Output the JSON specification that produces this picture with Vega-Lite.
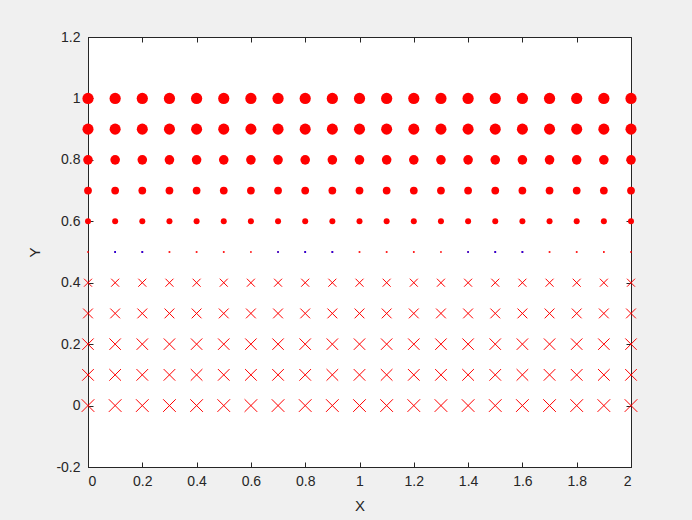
{
  "$schema": "https://vega.github.io/schema/vega-lite/v6.json",
  "width": 543,
  "height": 430,
  "autosize": "none",
  "padding": {"left": 88, "top": 37, "right": 61, "bottom": 53},
  "background": "#f0f0f0",
  "config": {
    "view": {"fill": "white", "stroke": "#262626", "strokeWidth": 1},
    "font": "Liberation Sans",
    "axis": {
      "grid": false,
      "domainColor": "#262626",
      "tickColor": "#262626",
      "labelColor": "#262626",
      "titleColor": "#262626",
      "labelFont": "Liberation Sans",
      "titleFont": "Liberation Sans",
      "labelFontSize": 14,
      "titleFontSize": 15,
      "titleFontWeight": "normal",
      "tickSize": -5,
      "labelPadding": 12
    }
  },
  "datasets": {
    "grid": [
      {"y": 0, "x": [0,0.1,0.2,0.3,0.4,0.5,0.6,0.7,0.8,0.9,1,1.1,1.2,1.3,1.4,1.5,1.6,1.7,1.8,1.9,2]},
      {"y": 0.1, "x": [0,0.1,0.2,0.3,0.4,0.5,0.6,0.7,0.8,0.9,1,1.1,1.2,1.3,1.4,1.5,1.6,1.7,1.8,1.9,2]},
      {"y": 0.2, "x": [0,0.1,0.2,0.3,0.4,0.5,0.6,0.7,0.8,0.9,1,1.1,1.2,1.3,1.4,1.5,1.6,1.7,1.8,1.9,2]},
      {"y": 0.3, "x": [0,0.1,0.2,0.3,0.4,0.5,0.6,0.7,0.8,0.9,1,1.1,1.2,1.3,1.4,1.5,1.6,1.7,1.8,1.9,2]},
      {"y": 0.4, "x": [0,0.1,0.2,0.3,0.4,0.5,0.6,0.7,0.8,0.9,1,1.1,1.2,1.3,1.4,1.5,1.6,1.7,1.8,1.9,2]},
      {"y": 0.5, "x": [0,0.1,0.2,0.3,0.4,0.5,0.6,0.7,0.8,0.9,1,1.1,1.2,1.3,1.4,1.5,1.6,1.7,1.8,1.9,2]},
      {"y": 0.6, "x": [0,0.1,0.2,0.3,0.4,0.5,0.6,0.7,0.8,0.9,1,1.1,1.2,1.3,1.4,1.5,1.6,1.7,1.8,1.9,2]},
      {"y": 0.7, "x": [0,0.1,0.2,0.3,0.4,0.5,0.6,0.7,0.8,0.9,1,1.1,1.2,1.3,1.4,1.5,1.6,1.7,1.8,1.9,2]},
      {"y": 0.8, "x": [0,0.1,0.2,0.3,0.4,0.5,0.6,0.7,0.8,0.9,1,1.1,1.2,1.3,1.4,1.5,1.6,1.7,1.8,1.9,2]},
      {"y": 0.9, "x": [0,0.1,0.2,0.3,0.4,0.5,0.6,0.7,0.8,0.9,1,1.1,1.2,1.3,1.4,1.5,1.6,1.7,1.8,1.9,2]},
      {"y": 1, "x": [0,0.1,0.2,0.3,0.4,0.5,0.6,0.7,0.8,0.9,1,1.1,1.2,1.3,1.4,1.5,1.6,1.7,1.8,1.9,2]}
    ],
    "bluedots": [
      {"x": 0.1, "y": 0.5}, {"x": 0.2, "y": 0.5}, {"x": 0.7, "y": 0.5}, {"x": 0.8, "y": 0.5},
      {"x": 0.9, "y": 0.5}, {"x": 1.4, "y": 0.5}, {"x": 1.5, "y": 0.5}, {"x": 1.6, "y": 0.5}
    ]
  },
  "resolve": {"axis": {"x": "independent", "y": "independent"}, "scale": {"size": "independent"}},
  "layer": [
    {
      "data": {"name": "grid"},
      "transform": [{"flatten": ["x"]}, {"filter": "datum.y > 0.55"}],
      "mark": {"type": "point", "shape": "circle", "filled": true, "color": "#ff0000", "opacity": 1},
      "encoding": {
        "x": {
          "field": "x", "type": "quantitative",
          "scale": {"domain": [0, 2], "nice": false, "zero": false},
          "axis": {"title": "X", "values": [0,0.2,0.4,0.6,0.8,1,1.2,1.4,1.6,1.8,2],
                   "labelExpr": "format(datum.value, '~g')", "titlePadding": 10}
        },
        "y": {
          "field": "y", "type": "quantitative",
          "scale": {"domain": [-0.2, 1.2], "nice": false, "zero": false},
          "axis": {"title": "Y", "values": [-0.2,0,0.2,0.4,0.6,0.8,1,1.2], "labelPadding": 13,
                   "labelExpr": "replace(format(datum.value, '~g'), '\u2212', '-')", "titlePadding": 13}
        },
        "size": {
          "field": "y", "type": "quantitative", "legend": null,
          "scale": {"type": "linear", "zero": false, "domain": [0.6, 0.7, 0.8, 0.9, 1], "range": [36, 60, 92, 122, 126]}
        }
      }
    },
    {
      "data": {"name": "grid"},
      "transform": [{"flatten": ["x"]}, {"filter": "datum.y < 0.45"}],
      "mark": {"type": "point", "shape": "M-1,-1L1,1M-1,1L1,-1", "filled": false, "stroke": "#ff0000", "strokeWidth": 1, "opacity": 1},
      "encoding": {
        "x": {"field": "x", "type": "quantitative", "axis": null},
        "y": {"field": "y", "type": "quantitative", "axis": null},
        "size": {
          "field": "y", "type": "quantitative", "legend": null,
          "scale": {"type": "linear", "zero": false, "domain": [0, 0.1, 0.2, 0.3, 0.4], "range": [160, 135, 130, 96, 64]}
        }
      }
    },
    {
      "data": {"name": "grid"},
      "transform": [{"flatten": ["x"]}, {"filter": "datum.y > 0.45 && datum.y < 0.55"}],
      "mark": {"type": "square", "color": "#ff0000", "size": 3, "opacity": 1},
      "encoding": {
        "x": {"field": "x", "type": "quantitative", "axis": null},
        "y": {"field": "y", "type": "quantitative", "axis": null}
      }
    },
    {
      "data": {"name": "bluedots"},
      "mark": {"type": "square", "color": "#0000ff", "size": 3, "opacity": 1, "dx": -1.5},
      "encoding": {
        "x": {"field": "x", "type": "quantitative", "axis": null},
        "y": {"field": "y", "type": "quantitative", "axis": null}
      }
    },
    {
      "data": {"name": "bluedots"},
      "mark": {"type": "point", "opacity": 0},
      "encoding": {
        "x": {"field": "x", "type": "quantitative",
              "axis": {"orient": "top", "labels": false, "title": null, "domain": false,
                       "values": [0,0.2,0.4,0.6,0.8,1,1.2,1.4,1.6,1.8,2]}},
        "y": {"field": "y", "type": "quantitative",
              "axis": {"orient": "right", "labels": false, "title": null, "domain": false,
                       "values": [-0.2,0,0.2,0.4,0.6,0.8,1,1.2]}}
      }
    }
  ]
}
